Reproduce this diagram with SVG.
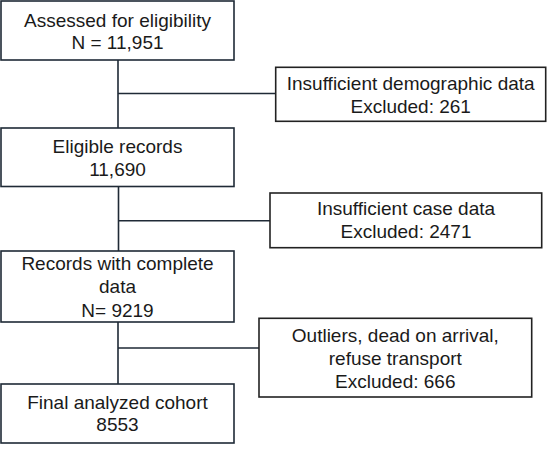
<svg xmlns="http://www.w3.org/2000/svg" width="550" height="449" viewBox="0 0 550 449">
<style>
.bl{fill:#fff;stroke:#1f2a36;stroke-width:1.6}
.br{fill:#fff;stroke:#222;stroke-width:1.6}
.t{font-family:"Liberation Sans",Arial,sans-serif;font-size:19px;fill:#1a1a1a;text-anchor:middle}
.c{fill:none;stroke:#1f2a36;stroke-width:1.6}
</style>
<rect width="550" height="449" fill="#fff"/>
<g id="connectors">
<path class="c" d="M118 60V128M118 93.5H275.7"/>
<path class="c" d="M118.5 186V251M118.5 220.8H270"/>
<path class="c" d="M118 322V384M118 348H259"/>
</g>
<g id="assessed">
<rect class="bl" x="1" y="1" width="233" height="59"/>
<text class="t" x="117.5" y="26.7">Assessed for eligibility</text>
<text class="t" x="117.5" y="49.3">N = 11,951</text>
</g>
<g id="excl1">
<rect class="br" x="275.7" y="67.3" width="270" height="54"/>
<text class="t" x="410.7" y="90">Insufficient demographic data</text>
<text class="t" x="410.7" y="113.3">Excluded: 261</text>
</g>
<g id="eligible">
<rect class="bl" x="1" y="128" width="233" height="58.5"/>
<text class="t" x="117.5" y="152.7">Eligible records</text>
<text class="t" x="117.5" y="175.7">11,690</text>
</g>
<g id="excl2">
<rect class="br" x="270" y="193" width="271.7" height="54.7"/>
<text class="t" x="406" y="215">Insufficient case data</text>
<text class="t" x="406" y="238.3">Excluded: 2471</text>
</g>
<g id="complete">
<rect class="bl" x="1" y="251" width="233" height="71"/>
<text class="t" x="117.5" y="270">Records with complete</text>
<text class="t" x="117.5" y="293.3">data</text>
<text class="t" x="117.5" y="316.7">N= 9219</text>
</g>
<g id="excl3">
<rect class="br" x="259" y="318.3" width="272.7" height="78.7"/>
<text class="t" x="395.3" y="341.7">Outliers, dead on arrival,</text>
<text class="t" x="395.3" y="365">refuse transport</text>
<text class="t" x="395.3" y="387.5">Excluded: 666</text>
</g>
<g id="final">
<rect class="bl" x="1" y="384" width="233" height="59"/>
<text class="t" x="117.5" y="409.3">Final analyzed cohort</text>
<text class="t" x="117.5" y="431">8553</text>
</g>
</svg>
